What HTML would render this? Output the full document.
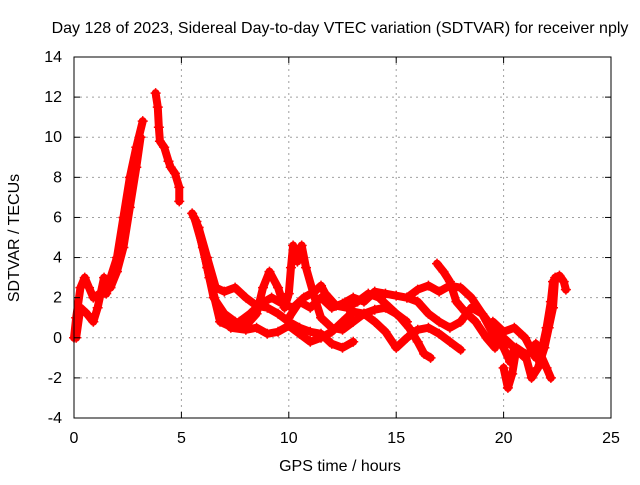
<!DOCTYPE html>
<html><head><meta charset="utf-8"><style>
body{margin:0;background:#fff;width:640px;height:480px;overflow:hidden;font-family:"Liberation Sans",sans-serif}
text{font-family:"Liberation Sans",sans-serif;font-size:16px;fill:#000}
</style></head><body>
<svg id="chart" width="640" height="480" xmlns="http://www.w3.org/2000/svg">
<text x="340" y="33" text-anchor="middle">Day 128 of 2023, Sidereal Day-to-day VTEC variation (SDTVAR) for receiver nply</text>
<text x="340" y="471" text-anchor="middle">GPS time / hours</text>
<text x="0" y="0" text-anchor="middle" transform="translate(19,238) rotate(-90)">SDTVAR / TECUs</text>
<g id="grid"></g>
<g id="marks"></g>
<rect x="74" y="57" width="537" height="361" fill="none" stroke="#000" stroke-width="1"/>
<g id="ticks"></g>
</svg>
<script>
const xTicks=[0,5,10,15,20,25];
const yTicks=[-4,-2,0,2,4,6,8,10,12,14];
const trackRiseA=[[0,0],[0.1,1],[0.3,2.5],[0.5,3],[0.7,2.5],[0.9,2],[1.2,2.2],[1.5,2.2],[1.7,3],[2.0,4],[2.3,6],[2.6,8],[2.9,9.5],[3.2,10.8]];
const trackRiseB=[[0.1,0],[0.3,1.5],[0.6,1.2],[0.9,0.8],[1.1,1.5],[1.4,3],[1.7,2.5],[2.0,3.3],[2.3,4.5],[2.6,6.5],[2.9,8.5],[3.1,10]];
const trackPeak=[[3.8,12.2],[3.9,11.5],[3.95,10.5],[4.0,9.8],[4.2,9.5],[4.4,8.8],[4.5,8.5],[4.7,8.2],[4.9,7.5],[4.9,6.8]];
const track1=[[5.5,6.2],[5.8,5.5],[6.2,4],[6.6,2.5],[7,2.3],[7.5,2.5],[8,2.0],[8.5,1.6],[9,1.5],[9.5,1.2],[10,0.8],[10.5,0.5],[11,0.3],[11.5,0.2],[12,-0.3],[12.5,-0.5],[13,-0.2]];
const track2=[[5.6,6],[6,4.5],[6.5,2],[7,1.2],[7.5,0.8],[8,0.6],[8.5,1.2],[8.8,2.5],[9.1,3.3],[9.5,2.5],[9.8,1.5],[10,2.2],[10.1,3.5],[10.2,4.6],[10.4,3.8],[10.6,4.6],[10.8,3.5],[11.2,2],[11.5,1],[12,0.5],[12.5,0.4],[13,0.8],[13.5,1.2],[14,1.4],[14.5,1.5],[15,1.2],[15.5,0.8]];
const track3=[[5.7,5.8],[6.2,3.5],[6.8,0.8],[7.2,0.6],[7.7,0.8],[8.2,1.2],[8.7,1.7],[9.2,2],[9.7,1.7],[10.2,1.5],[10.7,2],[11.2,2.3],[11.5,2.6],[11.7,2.2],[12.2,1.6],[12.7,1.5],[13.2,1.8],[13.7,2.2],[14.2,2],[14.7,1.5],[15.2,1],[15.6,0.5],[16,-0.2],[16.3,-0.8],[16.6,-1]];
const track4=[[5.8,5.5],[6.3,3],[6.8,1],[7.3,0.5],[8,0.4],[8.5,0.5],[9,0.2],[9.5,0.3],[10,0.6],[10.5,0.2],[11,-0.2],[11.5,0],[12,0.3],[12.5,0.8],[13,1.3],[13.5,1.2],[14,0.8],[14.5,0.3],[15,-0.5],[15.5,0],[16,0.4],[16.5,0.5],[17,0.2],[17.5,-0.2],[18,-0.6]];
const track5=[[10,1],[10.5,1.8],[11,1.5],[11.5,2],[12,1.5],[12.5,1.7],[13,2],[13.5,1.8],[14,2.3],[14.5,2.2],[15,2.1],[15.5,2],[16,2.4],[16.5,2.6],[17,2.3],[17.5,2.6],[18,2.5],[18.5,2],[19,1.2],[19.5,0.5],[20,0],[20.5,-0.5]];
const track6=[[16.9,3.7],[17.2,3.3],[17.5,2.8],[17.8,1.8],[18.2,1.3],[18.7,0.8],[19.2,0],[19.6,-0.5]];
const track7=[[15.5,2],[16,1.8],[16.5,1.2],[17,0.8],[17.5,0.5],[18,0.8],[18.5,1.5],[19,1.2],[19.5,0.2],[20,-0.5],[20.3,-1.2],[20.5,-0.5],[21,-1],[21.5,-0.3],[22,-1.5],[22.2,-2]];
const track8=[[20,-1.5],[20.2,-2.5],[20.4,-1.8],[20.6,-0.5],[21,-0.8],[21.3,-2],[21.6,-1.5],[21.9,-0.5],[22.1,0.5],[22.3,1.5],[22.4,3],[22.6,3.1],[22.8,2.8],[22.9,2.4]];
const track9=[[19.5,0.8],[20,0.3],[20.5,0.5],[21,0],[21.5,-1],[21.8,-0.5],[22,0.5],[22.2,1.8],[22.3,2.8]];
const tracks=[trackRiseA,trackRiseB,trackPeak,track1,track2,track3,track4,track5,track6,track7,track8,track9];

const NS="http://www.w3.org/2000/svg";
const X0=74,X1=611,Y0=418,Y1=57;
function xs(v){return X0+(v-0)/25*(X1-X0);}
function ys(v){return Y0-(v+4)/18*(Y0-Y1);}
function mk(tag,attrs,parent){const e=document.createElementNS(NS,tag);for(const k in attrs)e.setAttribute(k,attrs[k]);parent.appendChild(e);return e;}
const grid=document.getElementById('grid'),ticks=document.getElementById('ticks'),marks=document.getElementById('marks');
xTicks.forEach(t=>{
  const x=xs(t);
  if(t>0&&t<25){const g=mk('line',{x1:x,x2:x,y1:Y1,y2:Y0,stroke:'#a0a0a0','stroke-dasharray':'2,4'},grid);
  
  }
  const a=mk('line',{x1:x,x2:x,y1:Y0,y2:Y0-6,stroke:'#000'},ticks);
  
  
  const b=mk('line',{x1:x,x2:x,y1:Y1,y2:Y1+6,stroke:'#000'},ticks);
  
  
  const l=mk('text',{x:x,y:443,'text-anchor':'middle'},ticks);l.textContent=t;
  
  
});
yTicks.forEach(t=>{
  const y=ys(t);
  if(t>-4&&t<14){const g=mk('line',{x1:X0,x2:X1,y1:y,y2:y,stroke:'#a0a0a0','stroke-dasharray':'2,4'},grid);
  
  }
  const a=mk('line',{x1:X0,x2:X0+6,y1:y,y2:y,stroke:'#000'},ticks);
  
  
  const b=mk('line',{x1:X1,x2:X1-6,y1:y,y2:y,stroke:'#000'},ticks);
  
  
  const l=mk('text',{x:62,y:y+5,'text-anchor':'end'},ticks);l.textContent=t;
  
  
});
tracks.forEach((tr,i)=>{
  const p=mk('polyline',{points:tr.map(d=>xs(d[0])+','+ys(d[1])).join(' '),fill:'none',stroke:'#ff0000','stroke-width':8,'stroke-linejoin':'round','stroke-linecap':'round'},marks);
  
  
  tr.forEach(d=>{
    const x=xs(d[0]),y=ys(d[1]);
    const m=mk('path',{d:`M${x-5},${y}H${x+5}M${x},${y-5}V${y+5}`,stroke:'#ff0000','stroke-width':1.5},marks);
    
    
  });
});
</script>
</body></html>
